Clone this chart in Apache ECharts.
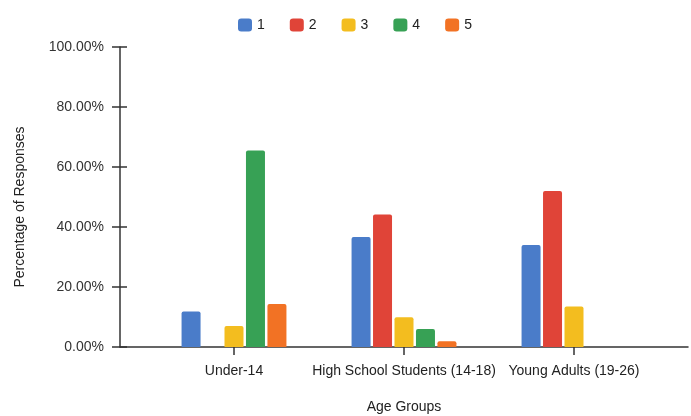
<!DOCTYPE html>
<html>
<head>
<meta charset="utf-8">
<script src="https://cdn.jsdelivr.net/npm/echarts@6/dist/echarts.min.js"></script>
<style>
  html, body { margin: 0; padding: 0; background: #fff; }
  #chart { width: 691px; height: 416px; }
</style>
</head>
<body>
<div id="chart"></div>
<script>
// Age groups on the x axis
const categories = ['Under-14', 'High School Students (14-18)', 'Young Adults (19-26)'];
// Share of responses (%) per answer option
const resp1 = [11.8, 36.7, 34.0];
const resp2 = [0, 44.2, 52.0];
const resp3 = [7.0, 9.9, 13.5];
const resp4 = [65.5, 6.0, 0];
const resp5 = [14.3, 1.9, 0];
const seriesNames = ['1', '2', '3', '4', '5'];
const yTicks = [0, 20, 40, 60, 80, 100];

const colors = ['#4a7cc9', '#e04438', '#f3bd1f', '#37a155', '#f27224'];
const allValues = [resp1, resp2, resp3, resp4, resp5];

const font = 'Liberation Sans, Arial, sans-serif';
const axisColor = '#333';
const yMin = yTicks[0];
const yMax = yTicks[yTicks.length - 1];

const chart = echarts.init(document.getElementById('chart'));

const barSeries = allValues.map((vals, i) => ({
  name: seriesNames[i],
  type: 'bar',
  xAxisIndex: 2,
  yAxisIndex: 2,
  data: vals,
  barWidth: 19,
  barGap: '13%',
  itemStyle: { color: colors[i], borderRadius: [2, 2, 0, 0] }
}));

chart.setOption({
  animation: false,
  color: colors,
  textStyle: { fontFamily: font },
  legend: {
    top: 13,
    left: 233,
    icon: 'roundRect',
    itemWidth: 14,
    itemHeight: 13,
    itemGap: 25,
    textStyle: { fontSize: 14, color: '#222', fontFamily: font },
    data: seriesNames
  },
  grid: [
    // frame grid carrying the axis lines
    { left: 120, right: 3, top: 47, bottom: 69, outerBoundsMode: 'none', containLabel: false },
    // plotting grid for the bar groups
    { left: 149, right: 32, top: 47, bottom: 69, outerBoundsMode: 'none', containLabel: false }
  ],
  xAxis: [
    {
      gridIndex: 0, type: 'category', data: [''], position: 'bottom', offset: 0,
      axisLine: { show: true, lineStyle: { color: axisColor, width: 1.5 } },
      axisTick: { show: false }, axisLabel: { show: false }
    },
    {
      gridIndex: 1, type: 'category', data: categories, position: 'bottom', offset: 0,
      axisLine: { show: false },
      axisTick: { show: true, inside: true, alignWithLabel: true, length: 6, lineStyle: { color: axisColor, width: 1.5 } },
      axisLabel: { show: false }
    },
    {
      gridIndex: 1, type: 'category', data: categories, position: 'bottom', offset: 0,
      name: 'Age Groups', nameLocation: 'middle', nameGap: 53,
      nameTextStyle: { fontSize: 14, color: '#222', fontFamily: font },
      axisLine: { show: false },
      axisTick: { show: true, alignWithLabel: true, length: 8, lineStyle: { color: axisColor, width: 1.5 } },
      axisLabel: { fontSize: 14, color: '#222', margin: 17, fontFamily: font, interval: 0 }
    }
  ],
  yAxis: [
    {
      gridIndex: 0, type: 'value', min: yMin, max: yMax, interval: 20, position: 'left', offset: 0,
      name: 'Percentage of Responses', nameLocation: 'middle', nameGap: 93,
      nameTextStyle: { fontSize: 14, color: '#222', fontFamily: font, padding: [0, 20, 0, 0] },
      axisLine: { show: true, lineStyle: { color: axisColor, width: 1.5 } },
      axisTick: { show: true, length: 8, lineStyle: { color: axisColor, width: 1.5 } },
      splitLine: { show: false },
      axisLabel: {
        fontSize: 14, color: '#333', margin: 16, fontFamily: font,
        formatter: v => v.toFixed(2) + '%'
      }
    },
    {
      gridIndex: 0, type: 'value', min: yMin, max: yMax, interval: 20, position: 'left', offset: 0,
      axisLine: { show: false },
      axisTick: { show: true, inside: true, length: 7, lineStyle: { color: axisColor, width: 1.5 } },
      splitLine: { show: false },
      axisLabel: { show: false }
    },
    {
      gridIndex: 1, type: 'value', min: yMin, max: yMax, interval: 20, position: 'left', offset: 0,
      axisLine: { show: false }, axisTick: { show: false }, axisLabel: { show: false },
      splitLine: { show: false }
    }
  ],
  series: barSeries
});
</script>
</body>
</html>
